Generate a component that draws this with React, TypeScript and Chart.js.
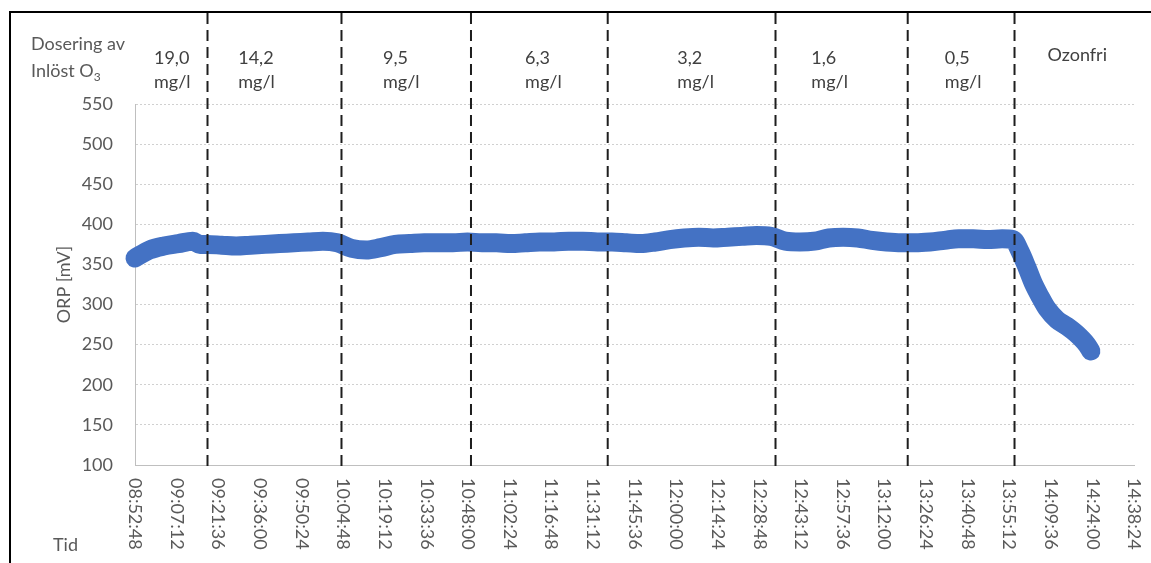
import React, { useEffect, useRef } from "react";
import { Chart, registerables } from "chart.js";

Chart.register(...registerables);

// ---- data ----
const timeTickLabels = [
  "08:52:48", "09:07:12", "09:21:36", "09:36:00", "09:50:24", "10:04:48", "10:19:12",
  "10:33:36", "10:48:00", "11:02:24", "11:16:48", "11:31:12", "11:45:36", "12:00:00",
  "12:14:24", "12:28:48", "12:43:12", "12:57:36", "13:12:00", "13:26:24", "13:40:48",
  "13:55:12", "14:09:36", "14:24:00", "14:38:24",
];

const sampleTimes = [
  "08:52:48", "08:57:48", "09:02:48", "09:07:48", "09:12:48", "09:15:18", "09:17:48",
  "09:22:48", "09:27:48", "09:32:48", "09:37:48", "09:42:48", "09:47:48", "09:52:48",
  "09:57:48", "10:02:48", "10:07:48", "10:12:48", "10:17:48", "10:22:48", "10:27:48",
  "10:32:48", "10:37:48", "10:42:48", "10:47:48", "10:52:48", "10:57:48", "11:02:48",
  "11:07:48", "11:12:48", "11:17:48", "11:22:48", "11:27:48", "11:32:48", "11:37:48",
  "11:42:48", "11:47:48", "11:52:48", "11:57:48", "12:02:48", "12:07:48", "12:12:48",
  "12:17:48", "12:22:48", "12:27:48", "12:32:48", "12:37:48", "12:42:48", "12:47:48",
  "12:52:48", "12:57:48", "13:02:48", "13:07:48", "13:12:48", "13:17:48", "13:22:48",
  "13:27:48", "13:32:48", "13:37:48", "13:42:48", "13:47:48", "13:52:48", "13:56:30",
  "13:59:00", "14:01:24", "14:03:30", "14:05:54", "14:08:18", "14:11:48", "14:15:12",
  "14:18:42", "14:22:06", "14:23:30",
];

const orpValues = [
  358, 368, 373, 376, 379, 375, 375,
  374, 373, 374, 375, 376, 377, 378,
  379, 377, 370, 368, 371, 375, 376,
  377, 377, 377, 378, 377, 377, 376,
  377, 378, 378, 379, 379, 378, 378,
  377, 376, 378, 381, 383, 384, 383,
  384, 385, 386, 385, 379, 378, 379,
  383, 384, 383, 380, 378, 377, 377,
  378, 380, 382, 382, 381, 382, 381,
  366, 346, 327, 310, 295, 281, 273,
  263, 250, 242,
];

const dividerTimes = ["09:17:53", "10:04:14", "10:49:02", "11:36:20", "12:34:23", "13:20:07", "13:57:04"];
const doseValues = ["19,0", "14,2", "9,5", "6,3", "3,2", "1,6", "0,5"];
const doseUnit = "mg/l";
const ozoneFreeLabel = "Ozonfri";
const headerLine1 = "Dosering av";
const headerLine2 = "Inlöst O";
const headerSub = "3";
const xTitle = "Tid";
const yTitle = "ORP [mV]";
const yMin = 100;
const yMax = 550;
const yStep = 50;

// ---- helpers ----
const toSec = (s: string) => {
  const [h, m, x] = s.split(":").map(Number);
  return h * 3600 + m * 60 + x;
};
const fmt = (v: number) => {
  const h = Math.floor(v / 3600);
  const m = Math.floor((v % 3600) / 60);
  const s = Math.round(v % 60);
  const p = (n: number) => String(n).padStart(2, "0");
  return `${p(h)}:${p(m)}:${p(s)}`;
};

const FONT = "Lato";
const labelNudges = [1, -18, -5, 4, 4, -12, 2, 3];

const overlayPlugin = {
  id: "overlay",
  afterDraw(chart: any) {
    const ctx = chart.ctx as CanvasRenderingContext2D;
    const xs = chart.scales.x;
    const area = chart.chartArea;
    ctx.save();

    // frame
    ctx.strokeStyle = "#000";
    ctx.lineWidth = 2;
    ctx.beginPath();
    ctx.moveTo(10, 563);
    ctx.lineTo(10, 12);
    ctx.lineTo(1151, 12);
    ctx.stroke();

    // dashed dividers
    const divPx = dividerTimes.map((t) => xs.getPixelForValue(toSec(t)));
    ctx.strokeStyle = "#1e1e1e";
    ctx.lineWidth = 2;
    ctx.setLineDash([11, 6]);
    divPx.forEach((x) => {
      ctx.beginPath();
      ctx.moveTo(x, 13);
      ctx.lineTo(x, area.bottom + 5);
      ctx.stroke();
    });
    ctx.setLineDash([]);

    // dose labels
    const bounds = [area.left, ...divPx, area.right];
    ctx.fillStyle = "#404040";
    ctx.font = `18px ${FONT}`;
    ctx.textBaseline = "alphabetic";
    ctx.textAlign = "left";
    for (let i = 0; i < bounds.length - 1; i++) {
      const c = (bounds[i] + bounds[i + 1]) / 2 + (labelNudges[i] || 0);
      if (i < doseValues.length) {
        const w = Math.max(ctx.measureText(doseValues[i]).width, ctx.measureText(doseUnit).width);
        const left = c - w / 2;
        ctx.fillText(doseValues[i], left, 64);
        ctx.fillText(doseUnit, left, 88);
      } else {
        const w = ctx.measureText(ozoneFreeLabel).width;
        ctx.fillText(ozoneFreeLabel, c - w / 2, 61);
      }
    }

    // header (top-left)
    ctx.fillStyle = "#595959";
    ctx.font = `18px ${FONT}`;
    ctx.fillText(headerLine1, 31, 50);
    ctx.fillText(headerLine2, 31, 77);
    const w2 = ctx.measureText(headerLine2).width;
    ctx.font = `12px ${FONT}`;
    ctx.fillText(headerSub, 31 + w2, 81);

    // x title
    ctx.font = `18px ${FONT}`;
    ctx.fillText(xTitle, 53, 551);

    // x tick labels (rotated clockwise)
    ctx.fillStyle = "#595959";
    ctx.font = `18px ${FONT}`;
    ctx.textBaseline = "middle";
    xs.ticks.forEach((t: any) => {
      const x = xs.getPixelForValue(t.value);
      ctx.save();
      ctx.translate(x, area.bottom + 13);
      ctx.rotate(Math.PI / 2);
      ctx.textAlign = "left";
      ctx.fillText(fmt(t.value), 0, 0);
      ctx.restore();
    });

    ctx.restore();
  },
};

export default function App() {
  const ref = useRef<HTMLCanvasElement>(null);

  useEffect(() => {
    if (!ref.current) return;
    Chart.defaults.font.family = FONT;
    const data = sampleTimes.map((t, i) => ({ x: toSec(t), y: orpValues[i] }));
    const chart = new Chart(ref.current, {
      type: "line",
      data: {
        datasets: [
          {
            label: "ORP",
            data,
            borderColor: "#4472C4",
            backgroundColor: "#4472C4",
            borderWidth: 19,
            borderCapStyle: "round",
            borderJoinStyle: "round",
            pointRadius: 0,
            cubicInterpolationMode: "monotone",
            clip: false as any,
          },
        ],
      },
      options: {
        animation: false,
        responsive: false,
        devicePixelRatio: 1,
        layout: { autoPadding: false, padding: { top: 104, right: 17, left: 0, bottom: 0 } },
        plugins: { legend: { display: false }, tooltip: { enabled: false } },
        scales: {
          x: {
            type: "linear",
            min: toSec(timeTickLabels[0]),
            max: toSec(timeTickLabels[timeTickLabels.length - 1]),
            afterBuildTicks: (s: any) => {
              s.ticks = timeTickLabels.map((t) => ({ value: toSec(t) }));
            },
            afterFit: (s: any) => {
              s.height = 98;
            },
            ticks: { display: false },
            grid: { display: false },
            border: { display: true, color: "#bfbfbf", width: 1 },
          },
          y: {
            min: yMin,
            max: yMax,
            afterFit: (s: any) => {
              s.width = 135;
            },
            ticks: {
              stepSize: yStep,
              color: "#595959",
              font: { family: FONT, size: 18 },
              padding: 22,
            },
            grid: { color: "#d0d0d0", lineWidth: 1, drawTicks: false },
            border: { display: true, color: "#bfbfbf", width: 1, dash: [2, 2] },
            title: {
              display: true,
              text: yTitle,
              color: "#595959",
              font: { family: FONT, size: 18 },
              padding: { top: 53, bottom: 0 },
            },
          },
        },
      },
      plugins: [overlayPlugin],
    });
    return () => chart.destroy();
  }, []);

  return (
    <div style={{ position: "absolute", left: 0, top: 0, width: 1151, height: 563, background: "#fff" }}>
      <canvas ref={ref} width={1151} height={563} style={{ display: "block" }} />
    </div>
  );
}
